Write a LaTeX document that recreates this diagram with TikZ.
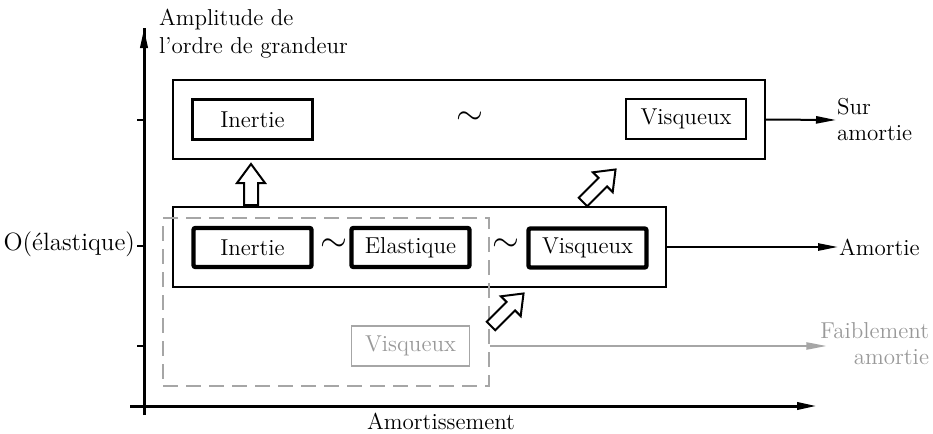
\documentclass[tikz,border=0pt]{standalone}
\usepackage{tikz}
\usetikzlibrary{arrows.meta,positioning}

\begin{document}
\begin{tikzpicture}[
    x=0.5pt, y=-0.5pt,
    font=\fontsize{11.5}{13}\selectfont,
    line width=1pt,
    >={Triangle[length=10pt,width=3.6pt]},
    frame/.style={draw, line width=1.1pt, inner sep=0pt},
    term/.style={draw, line width=1.2pt, minimum width=60pt, minimum height=20pt, inner sep=0pt},
    keyterm/.style={draw, line width=2.2pt, rounded corners=1pt, minimum width=59pt, minimum height=19.5pt, inner sep=0pt},
    weak/.style={draw=gray!70, text=gray!80, line width=0.7pt, minimum width=59pt, minimum height=20pt, inner sep=0pt},
    tilde/.style={font=\LARGE, inner sep=0pt},
    outcome/.style={align=left, inner sep=0pt},
    axis/.style={line width=1.5pt},
    hollow/.style={draw, line width=1pt, fill=white, line join=miter}
]
\useasboundingbox (0,0) rectangle (933,434);

% axes
\coordinate (origin) at (144,406);
\draw[axis] (144,415) -- (144,28) coordinate (ytop);
\draw[axis, ->] (130,406) -- (817,406) coordinate (xend);
\draw[axis, ->] (144,60) -- (ytop);
\foreach \y in {120,246,346}
  \draw[line width=1pt] (137,\y) -- (144,\y);

\node[align=left, anchor=west, inner sep=0pt, font=\fontsize{11.5}{14}\selectfont] (ylabel) at (158,34) {Amplitude de\\l'ordre de grandeur};
\node[anchor=east, inner sep=0pt, font=\fontsize{12.5}{14}\selectfont] (olabel) at (136,244) {O(\'elastique)};
\node[inner sep=0pt] (xlabel) at (441,421) {Amortissement};

% sur amortie
\node[frame, minimum width=296pt, minimum height=39.5pt] (surbox) at (469,119.5) {};
\node[term] (inertieA) at (252.5,119.5) {Inertie};
\node[tilde] (tildeA) at (470,118) {$\sim$};
\node[term] (visqueuxA) at (686,119) {Visqueux};
\node[outcome, anchor=west] (sur) at (836,120) {Sur\\amortie};
\draw[->] (surbox.east) -- (sur.west);

% amortie
\node[frame, minimum width=246.5pt, minimum height=40pt] (ambox) at (419.5,247) {};
\node[keyterm] (inertieB) at (252.5,247.5) {Inertie};
\node[tilde] (tildeB) at (334,245) {$\sim$};
\node[keyterm] (elastique) at (410.5,247.5) {Elastique};
\node[tilde] (tildeC) at (506,245) {$\sim$};
\node[keyterm] (visqueuxB) at (587.5,248) {Visqueux};
\node[outcome, anchor=west] (amortie) at (838,247) {Amortie};
\draw[->] (ambox.east) -- (amortie.west);

% faiblement amortie
\node[draw=gray!70, dashed, dash pattern=on 7.5pt off 4pt, line width=0.8pt, minimum width=163pt, minimum height=84pt, inner sep=0pt] (faiblebox) at (326,302) {};
\node[weak] (visqueuxC) at (410.5,346) {Visqueux};
\node[outcome, align=right, anchor=east, text=gray!80] (faible) at (930,344) {Faiblement\\amortie};
\draw[->, draw=gray!70, fill=gray!70, line width=0.8pt, shorten >=-3.5pt] (faiblebox.east |- visqueuxC) -- (faible.west |- visqueuxC);

% transitions
\draw[hollow, shift={(251,205)}, rotate=90]
  (0,-7) -- (22,-7) -- (22,-14) -- (41,0) -- (22,14) -- (22,7) -- (0,7) -- cycle;
\draw[hollow, shift={(583,202)}, rotate=45]
  (0,-6) -- (28,-6) -- (28,-14) -- (46,0) -- (28,14) -- (28,6) -- (0,6) -- cycle;
\draw[hollow, shift={(491,326)}, rotate=45]
  (0,-6) -- (28,-6) -- (28,-14) -- (46,0) -- (28,14) -- (28,6) -- (0,6) -- cycle;
\end{tikzpicture}
\end{document}
